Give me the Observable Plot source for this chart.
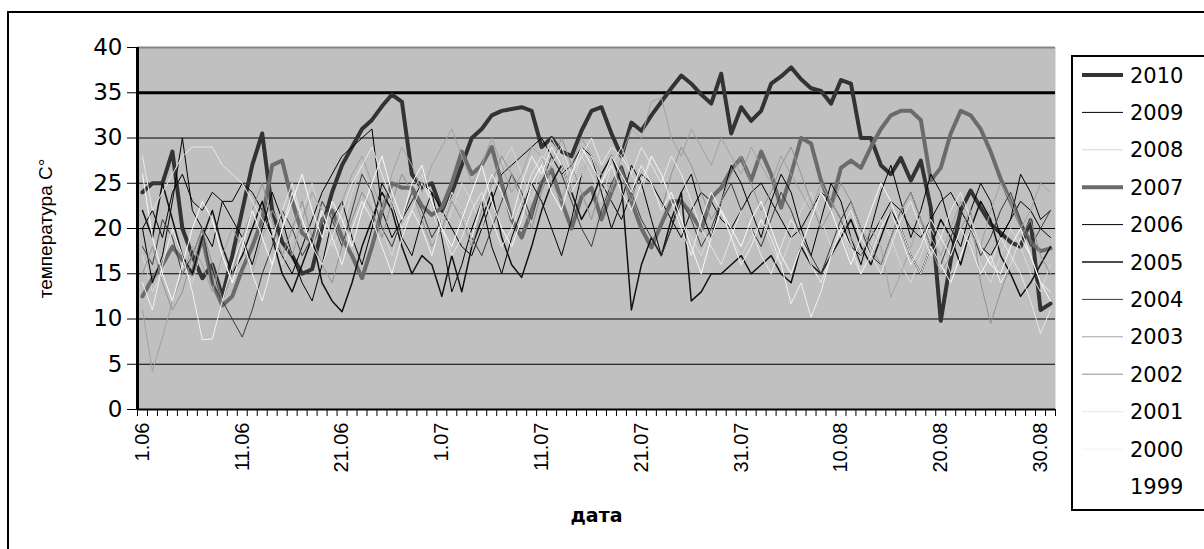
<!DOCTYPE html>
<html>
<head>
<meta charset="utf-8">
<script src="https://cdn.jsdelivr.net/npm/d3@7"></script>
<script src="https://cdn.jsdelivr.net/npm/@observablehq/plot@0.6"></script>
<style>
  html, body { margin: 0; padding: 0; background: #fff; }
  #chart { width: 1204px; height: 549px; overflow: hidden; }
</style>
</head>
<body>
<div id="chart"></div>
<script>
// Daily maximum temperature, 1 June – 31 August (92 days), one array per summer.
const years = [2010, 2009, 2008, 2007, 2006, 2005, 2004, 2003, 2002, 2001, 2000, 1999];

const t2010 = [24, 25, 25, 28.5, 20, 17, 14.5, 16, 12.5, 17, 22, 27, 30.5, 22, 18.5, 17, 15, 15.5, 20, 24, 27, 29, 31, 32, 33.5, 34.8, 34, 26, 24.5, 25,
  22, 24, 27, 30, 31, 32.5, 33, 33.2, 33.4, 33, 29, 30, 28.5, 28, 30.8, 33, 33.4, 30.5, 28, 31.7, 30.8, 32.5, 34, 35.5, 36.9, 36, 34.8, 33.8, 37.1, 30.5, 33.4,
  31.9, 33, 36, 36.8, 37.8, 36.5, 35.5, 35.2, 33.8, 36.4, 36, 30, 30, 27, 26, 27.8, 25.3, 27.5, 22.3, 9.8, 16.5, 22, 24.2, 22.3, 20.5, 19.5, 18.5, 18, 20.9, 11, 11.7];

const t2009 = [20, 22, 19, 24, 26, 23, 22, 24, 23, 23, 25, 24, 22, 19, 17, 15, 18, 21, 24, 26, 28, 29, 30, 31, 22, 19, 21, 23, 25, 24,
  22, 20, 18, 17, 20, 23, 26, 27, 28, 29, 30, 28, 26, 27, 29, 28, 25, 23, 21, 24, 26, 25, 23, 21, 19, 22, 24, 23, 21, 20, 22,
  24, 25, 23, 21, 19, 20, 22, 24, 23, 21, 18, 17, 19, 21, 23, 22, 20, 19, 21, 23, 24, 22, 20, 18, 17, 19, 21, 23, 22, 20, 19];

const t2008 = [17, 13, 15, 19, 16, 14, 18, 21, 17, 14, 16, 20, 23, 20, 16, 19, 22, 25, 21, 18, 20, 24, 27, 23, 20, 17, 21, 24, 26, 22,
  19, 22, 25, 23, 20, 24, 27, 29, 26, 23, 27, 30, 28, 25, 28, 26, 23, 27, 29, 26, 24, 28, 26, 23, 21, 19, 17, 20, 22, 19, 17,
  19, 21, 18, 16, 19, 22, 24, 21, 18, 20, 17, 15, 18, 21, 19, 16, 14, 17, 20, 18, 15, 17, 19, 16, 14, 17, 20, 18, 15, 13, 16];

const t2007 = [12.5, 14.5, 16, 18, 16.5, 15, 19, 14, 11.5, 12.5, 15.5, 18, 21, 27, 27.5, 23, 19.5, 18.5, 21, 22, 19, 17, 14.5, 18, 22, 25, 24.5, 24.5, 22.5, 21.5,
  22.3, 25, 28.5, 26, 27, 29, 25, 21, 19, 22, 25, 26.5, 23, 20, 23.5, 24.5, 21, 24, 26.7, 23, 20, 17.9, 20.5, 23, 23, 21.6, 19.8, 23.4, 24.5, 26.5, 27.8,
  25.3, 28.5, 26, 22.3, 26, 30, 29.4, 25.3, 22.5, 26.7, 27.5, 26.7, 29, 31, 32.5, 33, 33, 32, 25.3, 26.7, 30.5, 33, 32.5, 31, 28.5, 25.5, 23, 20.5, 18.5, 17.5, 17.8];

const t2006 = [20, 14, 17, 23, 30, 22, 20, 18, 23, 21, 19, 16, 20, 24, 21, 17, 14, 12, 16, 21, 23, 19, 16, 20, 25, 23, 19, 17, 21, 24,
  19, 13, 16, 20, 23, 18, 15, 19, 22, 25, 23, 20, 17, 21, 26, 28, 24, 20, 23, 27, 25, 21, 17, 20, 24, 26, 22, 19, 23, 27, 25,
  22, 19, 23, 26, 24, 20, 17, 21, 25, 23, 19, 16, 20, 24, 27, 23, 19, 22, 26, 24, 20, 18, 22, 25, 23, 19, 21, 26, 24, 21, 22];

const t2005 = [22, 19, 25, 21, 17, 15, 19, 22, 18, 15, 17, 20, 23, 19, 15, 13, 16, 19, 14, 12, 10.8, 14, 18, 21, 24, 22, 18, 15, 17, 16,
  12.5, 17, 13, 18, 21, 24, 19, 16, 14.6, 18, 22, 25, 27, 24, 21, 23, 26, 28, 25, 11, 16, 19, 17, 21, 24, 12, 13, 15, 15, 16, 17,
  15, 16, 17, 15, 14, 18, 16, 15, 17, 19, 21, 18, 16, 19, 22, 20, 17, 15, 18, 21, 19, 16, 20, 23, 21, 17, 15, 12.5, 14, 16, 18];

const t2004 = [18, 16, 21, 19, 15, 17, 20, 14, 12, 10, 8, 11, 15, 18, 22, 20, 17, 19, 23, 21, 18, 22, 26, 24, 20, 18, 21, 24, 22, 19,
  21, 24, 22, 19, 17, 20, 23, 26, 24, 21, 25, 28, 26, 23, 20, 18, 22, 25, 27, 24, 21, 19, 17, 20, 23, 21, 18, 20, 23, 25, 22,
  20, 18, 21, 24, 22, 19, 17, 15, 18, 21, 23, 20, 17, 16, 19, 22, 24, 21, 18, 16, 19, 22, 20, 17, 19, 22, 24, 21, 18, 20, 22];

const t2003 = [11, 4.2, 8, 12, 15, 18, 16, 13, 17, 20, 18, 15, 19, 22, 20, 17, 21, 24, 22, 19, 23, 26, 28, 25, 22, 26, 29, 27, 24, 27,
  29, 31, 28, 25, 27, 30, 27, 24, 26, 29, 28, 25, 23, 27, 30, 28, 26, 24, 28, 31, 30, 34, 34.5, 30, 28, 31, 29, 27, 30, 28, 26,
  29, 27, 25, 28, 26, 24, 22, 25, 23, 21, 19, 17, 20, 18, 12.4, 15, 18, 21, 19, 17, 20, 23, 21, 18, 22, 25, 23, 20, 22, 25, 24];

const t2002 = [15, 18, 14, 11, 13, 17, 20, 16, 12, 15, 19, 22, 25, 21, 17, 20, 23, 19, 16, 14, 18, 21, 24, 22, 19, 23, 26, 24, 21, 18,
  20, 23, 21, 18, 22, 25, 28, 26, 23, 20, 24, 27, 30, 27, 24, 21, 25, 28, 26, 23, 27, 25, 22, 26, 29, 27, 24, 21, 23, 26, 28,
  25, 22, 24, 27, 29, 26, 23, 20, 22, 25, 23, 20, 18, 16, 19, 22, 24, 21, 18, 15, 17, 20, 22, 14, 9.5, 13, 16, 19, 21, 17, 15];

const t2001 = [28, 22, 24, 26, 28, 29, 29, 29, 27, 26, 25, 23, 21, 19, 22, 25, 21, 18, 16, 19, 22, 25, 27, 29, 26, 23, 20, 22, 25, 23,
  20, 17, 19, 22, 24, 21, 18, 20, 23, 26, 28, 27, 29, 26, 28, 30, 27, 29, 28, 26, 29, 27, 25, 28, 26, 23, 20, 18, 16, 19, 22,
  20, 17, 15, 18, 21, 19, 16, 14, 17, 20, 22, 19, 17, 15, 18, 21, 23, 20, 17, 19, 22, 24, 21, 18, 16, 19, 17, 15, 12, 8.4, 11];

const t2000 = [14, 11, 16, 20, 17, 13, 7.7, 7.8, 12, 16, 19, 15, 12, 16, 20, 24, 21, 18, 22, 19, 16, 20, 23, 21, 18, 15, 19, 22, 20, 17,
  21, 24, 22, 19, 23, 26, 24, 21, 25, 28, 26, 29, 27, 24, 26, 28, 25, 27, 24, 22, 25, 28, 26, 23, 20, 17, 21, 24, 22, 19, 16,
  18, 21, 19, 16, 11.7, 14, 10.2, 13, 17, 20, 18, 15, 17, 20, 22, 19, 16, 18, 21, 19, 17, 20, 18, 15, 17, 14, 16, 19, 17, 14, 13];

const t1999 = [26, 19, 15, 12, 16, 20, 23, 21, 17, 14, 18, 22, 19, 16, 20, 23, 26, 22, 19, 23, 21, 18, 22, 25, 28, 24, 21, 25, 27, 23,
  20, 18, 21, 24, 27, 23, 20, 18, 21, 25, 27, 24, 22, 26, 29, 27, 25, 28, 26, 24, 27, 25, 22, 24, 21, 18, 15, 19, 22, 20, 18,
  21, 23, 20, 17, 15, 18, 21, 24, 22, 19, 16, 19, 22, 25, 23, 20, 17, 15, 18, 16, 14, 17, 20, 18, 16, 15, 18, 20, 17, 14, 12];

// Category axis labels: every tenth day, and the value axis ticks.
const labelDays = [0, 10, 20, 30, 40, 50, 60, 70, 80, 90];
const dayLabels = ["1.06", "11.06", "21.06", "1.07", "11.07", "21.07", "31.07", "10.08", "20.08", "30.08"];
const yTicks = [0, 5, 10, 15, 20, 25, 30, 35, 40];

const series = {
  2010: t2010, 2009: t2009, 2008: t2008, 2007: t2007, 2006: t2006, 2005: t2005,
  2004: t2004, 2003: t2003, 2002: t2002, 2001: t2001, 2000: t2000, 1999: t1999
};

// Line look per summer
const look = {
  2010: {stroke: "#333333", width: 4},
  2009: {stroke: "#000000", width: 1},
  2008: {stroke: "#d8d8d8", width: 1},
  2007: {stroke: "#6b6b6b", width: 4},
  2006: {stroke: "#000000", width: 1},
  2005: {stroke: "#111111", width: 1.5},
  2004: {stroke: "#3a3a3a", width: 1},
  2003: {stroke: "#a2a2a2", width: 1},
  2002: {stroke: "#929292", width: 1},
  2001: {stroke: "#e8e8e8", width: 1},
  2000: {stroke: "#f2f2f2", width: 1},
  1999: {stroke: "#fcfcfc", width: 1}
};

const nDays = t2010.length;
const boundaries = d3.range(nDays + 1).map(i => i - 0.5);
const sans = "'Liberation Sans', Arial, sans-serif";
const wide = "'DejaVu Sans', Verdana, sans-serif";

const chart = Plot.plot({
  width: 1204,
  height: 549,
  marginLeft: 137,
  marginRight: 149,
  marginTop: 47,
  marginBottom: 140,
  style: {fontFamily: sans, background: "#fff", overflow: "visible", color: "#000"},
  x: {type: "linear", domain: [-0.5, nDays - 0.5], axis: null},
  y: {domain: [0, 40], axis: null},
  marks: [
    Plot.frame({fill: "#c0c0c0", stroke: null}),
    Plot.ruleY(yTicks.filter(v => v > 0 && v < 40 && v !== 35), {stroke: "#000", strokeWidth: 1}),
    Plot.ruleY([35], {stroke: "#000", strokeWidth: 3}),
    ...years.map(y => Plot.line(series[y], {
      x: (d, i) => i,
      y: d => d,
      stroke: look[y].stroke,
      strokeWidth: look[y].width
    })),
    Plot.ruleY([40], {stroke: "#858585", strokeWidth: 2}),
    Plot.ruleX([-0.5], {stroke: "#000", strokeWidth: 3}),
    Plot.ruleY([0], {stroke: "#000", strokeWidth: 2}),
    Plot.axisY({ticks: yTicks, tickSize: 10, tickPadding: 5, fontSize: 23, fontFamily: wide, tickFormat: d => String(d)}),
    Plot.axisX({ticks: boundaries, tickSize: 7, tickFormat: () => ""}),
    Plot.text(labelDays, {
      x: d => d, y: 0, text: (d, i) => dayLabels[i],
      rotate: -90, textAnchor: "end", dy: 13, fontSize: 20, fontFamily: sans, fill: "#000"
    }),
    Plot.text(["температура С°"], {
      frameAnchor: "left", textAnchor: "middle", dx: -92, rotate: -90,
      fontSize: 19, fontFamily: sans, fill: "#000"
    }),
    Plot.text(["дата"], {
      frameAnchor: "bottom", dy: 112, fontSize: 19, fontWeight: "bold", fontFamily: wide, fill: "#000"
    })
  ]
});

// Frame round the whole chart, and the series legend on the right.
const svg = d3.select(chart);
svg.append("rect")
  .attr("x", 8).attr("y", 12).attr("width", 1220).attr("height", 560)
  .attr("fill", "none").attr("stroke", "#000").attr("stroke-width", 2);

const legend = svg.append("g").attr("text-anchor", "start");
legend.append("rect")
  .attr("x", 1072).attr("y", 56).attr("width", 160).attr("height", 454)
  .attr("fill", "#fff").attr("stroke", "#000").attr("stroke-width", 2);
years.forEach((y, k) => {
  const cy = 75 + k * 37.4;
  legend.append("line")
    .attr("x1", 1082).attr("x2", 1123).attr("y1", cy).attr("y2", cy)
    .attr("stroke", look[y].stroke).attr("stroke-width", look[y].width);
  legend.append("text")
    .attr("x", 1130).attr("y", cy).attr("dy", "0.36em")
    .attr("text-anchor", "start")
    .attr("font-family", wide).attr("font-size", 21).attr("fill", "#000")
    .text(String(y));
});

document.getElementById("chart").appendChild(chart);
</script>
</body>
</html>
